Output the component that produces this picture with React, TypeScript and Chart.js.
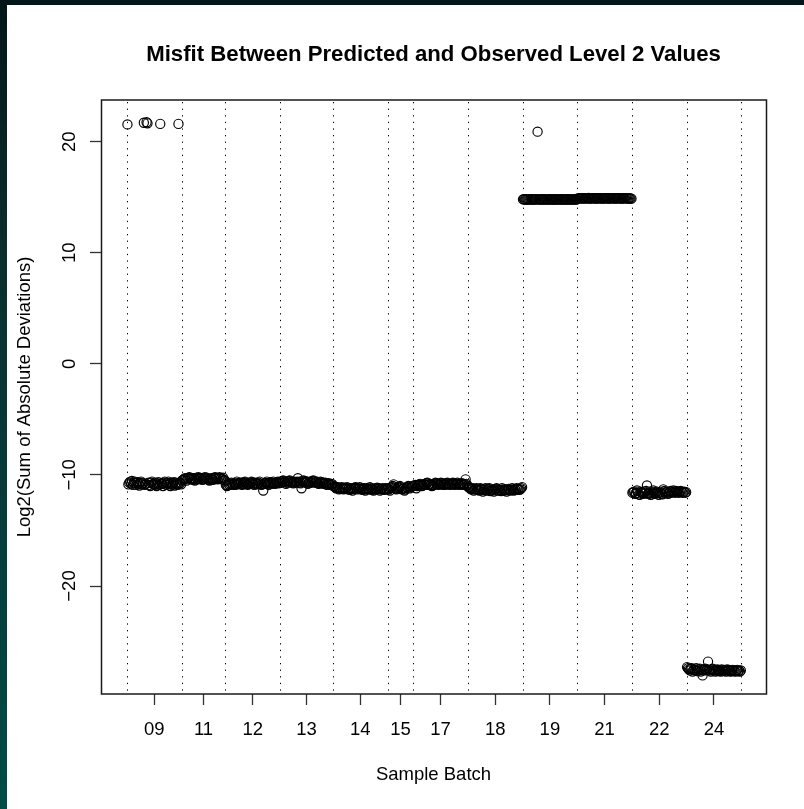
import React, { useEffect, useRef } from "react";
import { Chart, registerables } from "chart.js";

Chart.register(...registerables);

// ---------- data ----------
const batchLabels = ["09", "11", "12", "13", "14", "15", "17", "18", "19", "21", "22", "24"];

const batch09 = [
  21.55, -10.85, -10.7, -10.6, -10.8, -10.55, -10.9, -10.7, -10.6, -10.75,
  -10.9, -10.65, -10.8, -10.95, -10.7, -10.6, -10.85, -10.75, 21.7, -10.9,
  -10.8, 21.75, 21.65, -10.7, -10.9, -11.0, -10.7, -10.6, -10.8, -10.85,
  -10.9, -10.7, -11.0, -10.8, -10.65, -10.9, 21.6, -10.75, -10.8, -11.0,
  -10.7, -10.6, -10.85, -10.9, -10.75, -10.6, -10.8, -11.0, -10.7, -10.9,
  -10.8, -10.65, -10.95, -10.7, -10.8, -10.9, 21.6, -10.7, -10.75, -10.85,
];
const batch11 = [
  -10.5, -10.45, -10.4, -10.3, -10.35, -10.5, -10.3, -10.25, -10.2, -10.35,
  -10.4, -10.3, -10.45, -10.3, -10.5, -10.4, -10.25, -10.4, -10.2, -10.3,
  -10.35, -10.3, -10.45, -10.4, -10.3, -10.2, -10.35, -10.25, -10.4, -10.45,
  -10.5, -10.35, -10.3, -10.4, -10.45, -10.3, -10.2, -10.25, -10.35, -10.4,
  -10.3, -10.2, -10.35, -10.3, -10.4, -10.25, -10.45, -10.5,
];
const batch12 = [
  -10.9, -11.0, -10.95, -10.85, -10.9, -10.8, -10.7, -10.85, -10.9, -10.75,
  -10.8, -10.9, -10.6, -10.75, -10.8, -10.7, -10.85, -10.7, -10.9, -10.8,
  -10.65, -10.6, -10.7, -10.8, -10.9, -10.75, -10.8, -10.7, -10.6, -10.65,
  -10.8, -10.9, -10.75, -10.7, -10.85, -10.8, -10.7, -10.6, -10.8, -10.9,
  -10.85, -11.4, -10.8, -10.7, -10.75, -10.6, -10.8, -10.9, -10.7, -10.65,
  -10.8, -10.7, -10.6, -10.75, -10.8, -10.7, -10.65, -10.6, -10.75, -10.7,
];
const batch13 = [
  -10.6, -10.7, -10.55, -10.5, -10.65, -10.6, -10.8, -10.7, -10.6, -10.55,
  -10.5, -10.65, -10.7, -10.6, -10.75, -10.6, -10.7, -10.65, -10.6, -10.3,
  -10.7, -10.6, -10.75, -11.2, -10.6, -10.5, -10.65, -10.55, -10.7, -10.6,
  -10.8, -10.7, -10.6, -10.65, -10.7, -10.55, -10.5, -10.6, -10.7, -10.65,
  -10.6, -10.75, -10.8, -10.7, -10.6, -10.65, -10.7, -10.8, -10.75, -10.7,
  -10.85, -10.9, -10.8, -10.75, -10.85, -10.9, -10.8, -10.85,
];
const batch14 = [
  -11.0, -11.05, -11.1, -11.2, -11.15, -11.1, -11.3, -11.2, -11.25, -11.1,
  -11.2, -11.3, -11.15, -11.25, -11.2, -11.1, -11.3, -11.2, -11.35, -11.25,
  -11.2, -11.4, -11.25, -11.2, -11.1, -11.15, -11.3, -11.2, -11.25, -11.1,
  -11.3, -11.2, -11.35, -11.25, -11.2, -11.4, -11.3, -11.2, -11.25, -11.3,
  -11.1, -11.2, -11.35, -11.25, -11.4, -11.3, -11.2, -11.3, -11.15, -11.25,
  -11.2, -11.4, -11.3, -11.25, -11.2, -11.3, -11.35, -11.2, -11.25, -11.3,
];
const batch15 = [
  -11.2, -11.3, -11.4, -11.15, -11.1, -11.0, -10.85, -11.05, -11.2, -11.3,
  -11.25, -11.1, -11.15, -11.0, -11.1, -11.3, -11.25, -11.2, -11.4, -11.3,
  -11.1, -11.15, -11.0, -11.05, -11.2, -11.1, -11.05, -11.0,
];
const batch17 = [
  -11.0, -10.95, -10.9, -11.2, -11.0, -10.9, -10.85, -10.8, -10.9, -11.0,
  -10.95, -10.85, -10.8, -10.9, -10.75, -10.7, -10.9, -10.85, -10.8, -10.9,
  -11.0, -10.95, -10.9, -10.8, -10.7, -10.75, -10.8, -10.9, -10.85, -10.8,
  -10.7, -10.75, -10.9, -10.85, -10.8, -10.9, -10.75, -10.7, -10.8, -10.85,
  -10.9, -10.8, -10.85, -10.7, -10.75, -10.9, -10.8, -10.85, -10.7, -10.8,
  -10.9, -10.85, -10.8, -10.75, -10.9, -10.8, -10.85, -10.4, -10.8, -10.95,
];
const batch18 = [
  -11.1, -11.15, -11.2, -11.3, -11.25, -11.2, -11.4, -11.3, -11.25, -11.2,
  -11.3, -11.35, -11.4, -11.2, -11.3, -11.25, -11.5, -11.35, -11.3, -11.2,
  -11.4, -11.3, -11.25, -11.2, -11.45, -11.4, -11.3, -11.35, -11.5, -11.3,
  -11.25, -11.2, -11.4, -11.3, -11.35, -11.4, -11.45, -11.2, -11.3, -11.4,
  -11.35, -11.3, -11.5, -11.35, -11.25, -11.3, -11.4, -11.35, -11.2, -11.3,
  -11.4, -11.3, -11.35, -11.2, -11.3, -11.25, -11.35, -11.3, -11.2, -11.1,
];
const batch19 = [
  14.8, 14.82, 14.78, 14.8, 14.79, 14.81, 14.8, 14.78, 14.8, 14.82,
  14.79, 14.8, 14.81, 14.78, 14.8, 14.82, 20.9, 14.8, 14.79, 14.81,
  14.8, 14.78, 14.82, 14.8, 14.79, 14.8, 14.81, 14.78, 14.8, 14.82,
  14.8, 14.79, 14.81, 14.8, 14.78, 14.8, 14.82, 14.79, 14.8, 14.81,
  14.8, 14.78, 14.82, 14.8, 14.79, 14.81, 14.8, 14.78, 14.8, 14.82,
  14.79, 14.8, 14.81, 14.8, 14.78, 14.8, 14.82, 14.8, 14.79, 14.81,
];
const batch21 = [
  14.88, 14.9, 14.92, 14.89, 14.91, 14.9, 14.88, 14.92, 14.9, 14.89,
  14.91, 14.9, 14.93, 14.88, 14.9, 14.91, 14.89, 14.9, 14.92, 14.9,
  14.88, 14.91, 14.9, 14.89, 14.9, 14.92, 14.9, 14.88, 14.9, 14.91,
  14.89, 14.9, 14.92, 14.9, 14.88, 14.91, 14.9, 14.89, 14.9, 14.92,
  14.9, 14.88, 14.91, 14.9, 14.89, 14.9, 14.92, 14.9, 14.88, 14.9,
  14.91, 14.89, 14.9, 14.92, 14.9, 14.88, 14.9, 14.89, 14.88, 14.87,
];
const batch22 = [
  -11.6, -11.55, -11.5, -11.7, -11.65, -11.4, -11.6, -11.75, -11.8, -11.5,
  -11.55, -11.6, -11.7, -11.5, -11.6, -11.45, -10.95, -11.7, -11.65, -11.5,
  -11.8, -11.75, -11.6, -11.4, -11.55, -11.7, -11.6, -11.5, -11.65, -11.8,
  -11.6, -11.5, -11.7, -11.75, -11.3, -11.45, -11.6, -11.55, -11.5, -11.7,
  -11.65, -11.5, -11.45, -11.6, -11.55, -11.4, -11.5, -11.6, -11.45, -11.55,
  -11.5, -11.6, -11.55, -11.45, -11.5, -11.6, -11.55, -11.5, -11.6, -11.55,
];
const batch24 = [
  -27.3, -27.4, -27.5, -27.6, -27.45, -27.4, -27.7, -27.55, -27.5, -27.6,
  -27.4, -27.65, -27.5, -27.6, -27.45, -27.7, -27.55, -28.05, -27.6, -27.5,
  -27.45, -27.6, -27.5, -26.8, -27.55, -27.6, -27.7, -27.5, -27.45, -27.6,
  -27.55, -27.7, -27.6, -27.5, -27.65, -27.55, -27.6, -27.7, -27.5, -27.6,
  -27.65, -27.55, -27.6, -27.7, -27.5, -27.6, -27.55, -27.65, -27.7, -27.6,
  -27.55, -27.6, -27.65, -27.7, -27.6, -27.55, -27.65, -27.6, -27.7, -27.6,
];

const batchValues = [batch09, batch11, batch12, batch13, batch14, batch15, batch17, batch18, batch19, batch21, batch22, batch24];

const yTickValues = [-20, -10, 0, 10, 20];
const yTickLabels = ["\u221220", "\u221210", "0", "10", "20"];

const X_MIN = -28.0;
const X_MAX = 701.6;
const Y_MIN = -29.72;
const Y_MAX = 23.75;

const chartTitle = "Misfit Between Predicted and Observed Level 2 Values";
const xTitle = "Sample Batch";
const yTitle = "Log2(Sum of Absolute Deviations)";

const FONT = "'Liberation Sans', Arial, Helvetica, sans-serif";

// ---------- derived (sample index along x) ----------
const points: { x: number; y: number }[] = [];
const boundaries: number[] = [0.5];
const mids: number[] = [];
{
  let cum = 0;
  batchValues.forEach((vals) => {
    vals.forEach((v, i) => points.push({ x: cum + i + 1, y: v }));
    mids.push(cum + (vals.length + 1) / 2);
    cum += vals.length;
    boundaries.push(cum + 0.5);
  });
}

const rPlotPlugin = {
  id: "rplot",
  beforeDatasetsDraw(chart: any) {
    const { ctx, chartArea } = chart;
    const xs = chart.scales.x;
    ctx.save();
    ctx.strokeStyle = "#000";
    ctx.lineWidth = 1;
    ctx.setLineDash([1.3, 5.3]);
    boundaries.forEach((b) => {
      const px = Math.round(xs.getPixelForValue(b)) + 0.5;
      ctx.beginPath();
      ctx.moveTo(px, chartArea.top + 2);
      ctx.lineTo(px, chartArea.bottom);
      ctx.stroke();
    });
    ctx.restore();
  },
  afterDraw(chart: any) {
    const { ctx, chartArea } = chart;
    const ys = chart.scales.y;
    ctx.save();
    // box
    ctx.strokeStyle = "#1a1a1a";
    ctx.lineWidth = 1.5;
    ctx.strokeRect(chartArea.left + 0.5, chartArea.top, chartArea.right - chartArea.left, chartArea.bottom - chartArea.top);
    // main title
    ctx.fillStyle = "#000";
    ctx.font = `bold 22.2px ${FONT}`;
    ctx.textAlign = "center";
    ctx.textBaseline = "alphabetic";
    ctx.fillText(chartTitle, (chartArea.left + chartArea.right) / 2, 61);
    // y tick labels (rotated, R style)
    ctx.font = `18.5px ${FONT}`;
    yTickValues.forEach((v, i) => {
      const py = ys.getPixelForValue(v);
      ctx.save();
      ctx.translate(75, py);
      ctx.rotate(-Math.PI / 2);
      ctx.textAlign = "center";
      ctx.textBaseline = "alphabetic";
      ctx.fillText(yTickLabels[i], 0, 0);
      ctx.restore();
    });
    ctx.restore();
  },
};

export default function App() {
  const canvasRef = useRef<HTMLCanvasElement | null>(null);

  useEffect(() => {
    if (!canvasRef.current) return;
    const gridOpts = {
      display: true,
      drawOnChartArea: false,
      drawTicks: true,
      tickLength: 11,
      tickColor: "#333",
      tickWidth: 1.3,
    };
    const chart = new Chart(canvasRef.current, {
      type: "scatter",
      data: {
        datasets: [
          {
            data: points,
            pointStyle: "circle",
            pointRadius: 4.6,
            pointHoverRadius: 4.6,
            borderColor: "#000",
            backgroundColor: "rgba(0,0,0,0)",
            borderWidth: 1.15,
          },
        ],
      },
      options: {
        responsive: false,
        animation: false,
        devicePixelRatio: 1,
        events: [],
        layout: { padding: { top: 100, right: 38, bottom: 0, left: 0 } },
        plugins: {
          legend: { display: false },
          tooltip: { enabled: false },
          title: { display: false },
        },
        scales: {
          x: {
            type: "linear",
            position: "bottom",
            min: X_MIN,
            max: X_MAX,
            bounds: "data",
            afterBuildTicks: (s: any) => {
              s.ticks = mids.map((v) => ({ value: v }));
            },
            afterFit: (s: any) => {
              s.height = 115;
            },
            ticks: {
              autoSkip: false,
              maxRotation: 0,
              minRotation: 0,
              padding: 14,
              color: "#000",
              font: { family: FONT, size: 18.5 },
              callback: (_v: any, i: number) => batchLabels[i],
            },
            grid: gridOpts,
            border: { display: false },
            title: {
              display: true,
              text: xTitle,
              color: "#000",
              font: { family: FONT, size: 18.5 },
              padding: { top: 0, bottom: 23.4 },
            },
          },
          y: {
            type: "linear",
            position: "left",
            min: Y_MIN,
            max: Y_MAX,
            bounds: "data",
            afterBuildTicks: (s: any) => {
              s.ticks = yTickValues.map((v) => ({ value: v }));
            },
            afterFit: (s: any) => {
              s.width = 101;
            },
            ticks: { display: false },
            grid: gridOpts,
            border: { display: false },
            title: {
              display: true,
              text: yTitle,
              color: "#000",
              font: { family: FONT, size: 18.5 },
              padding: { top: 14.2, bottom: 0 },
            },
          },
        },
      } as any,
      plugins: [rPlotPlugin],
    });
    return () => chart.destroy();
  }, []);

  return (
    <div style={{ position: "fixed", left: 0, top: 0, width: 804, height: 809, background: "#fff", overflow: "hidden" }}>
      <canvas ref={canvasRef} width={804} height={809} style={{ display: "block" }} />
      <div style={{ position: "absolute", left: 0, top: 0, width: 804, height: 5, background: "#03161a" }} />
      <div style={{ position: "absolute", left: 0, top: 0, width: 7, height: 809, background: "linear-gradient(#03161a, #0a2e2c 30%, #004c47)" }} />
    </div>
  );
}
